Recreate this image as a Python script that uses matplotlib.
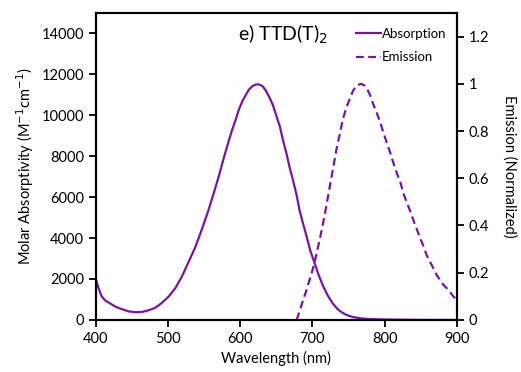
import numpy as np
import matplotlib
matplotlib.use('Agg')
import matplotlib.pyplot as plt

plt.rcParams['font.family'] = ['Lato', 'DejaVu Sans']

# Absorption spectrum
abs_nm = [399, 402, 405, 408, 413, 420, 427, 435, 445, 455, 464, 473, 482, 491,
          501, 510, 519, 528, 538, 547, 556, 563, 570, 577, 584, 589, 594, 598,
          603, 608, 612, 617, 622, 626, 631, 635, 640, 645, 649, 655, 659, 664,
          668, 673, 678, 682, 687, 692, 697, 703, 709, 715, 721, 728, 735, 741,
          747, 756, 766, 780, 800, 850, 900]
abs_val = [2110, 1750, 1420, 1150, 950, 800, 650, 540, 420, 375, 390, 470, 590, 820,
           1150, 1550, 2110, 2800, 3580, 4450, 5370, 6170, 6990, 7900, 8750, 9320,
           9830, 10280, 10700, 11020, 11260, 11430, 11510, 11510, 11420, 11230,
           10900, 10520, 10080, 9430, 8800, 8130, 7500, 6830, 6100, 5370, 4700,
           4060, 3380, 2770, 2150, 1630, 1200, 810, 520, 360, 245, 140, 80, 40, 20,
           0, 0]

# Emission spectrum (normalized)
em_nm = [678, 682, 686, 691, 695, 699, 703, 707, 711, 715, 719, 724, 729, 733,
         738, 742, 747, 752, 756, 761, 767, 771, 775, 780, 784, 789, 794, 798,
         803, 808, 812, 817, 822, 826, 831, 836, 840, 845, 850, 854, 858, 863,
         868, 872, 877, 881, 886, 890, 895, 900]
em_val = [0.0, 0.035, 0.075, 0.12, 0.16, 0.2, 0.245, 0.3, 0.355, 0.415, 0.48,
          0.566, 0.65, 0.72, 0.79, 0.85, 0.9, 0.94, 0.97, 0.993, 1.0, 0.995, 0.983,
          0.95, 0.915, 0.877, 0.835, 0.795, 0.75, 0.705, 0.665, 0.62, 0.58, 0.535,
          0.495, 0.455, 0.42, 0.38, 0.34, 0.31, 0.275, 0.245, 0.215, 0.19, 0.168,
          0.15, 0.134, 0.12, 0.1, 0.085]

purple = '#7A12A8'

fig = plt.figure(figsize=(5.21, 3.72), dpi=100)
ax = fig.add_axes([0.184, 0.140, 0.693, 0.825])
ax2 = ax.twinx()

la, = ax.plot(abs_nm, abs_val, color=purple, lw=1.6, label='Absorption')
le, = ax2.plot(em_nm, em_val, color=purple, lw=1.6, ls=(0, (3.5, 2)), label='Emission')

ax.set_xlim(400, 900)
ax.set_ylim(0, 15000)
ax2.set_ylim(0, 1.3)
ax.set_xticks([400, 500, 600, 700, 800, 900])
ax.set_yticks(range(0, 14001, 2000))
ax2.set_yticks([0, 0.2, 0.4, 0.6, 0.8, 1.0, 1.2])
ax2.set_yticklabels(['0', '0.2', '0.4', '0.6', '0.8', '1', '1.2'])

for a in (ax, ax2):
    for s in a.spines.values():
        s.set_linewidth(1.5)
    a.tick_params(direction='out', width=1.3, length=5, labelsize=10.5)

ax.set_xlabel('Wavelength (nm)', fontsize=10.5)
ax.set_ylabel('Molar Absorptivity (M$^{-1}$cm$^{-1}$)', fontsize=10.5)
ax2.set_ylabel('Emission (Normalized)', fontsize=10.5, rotation=270, labelpad=20)

ax.text(0.394, 0.93, 'e) TTD(T)$_2$', transform=ax.transAxes, fontsize=14,
        ha='left', va='center')

ax.legend(handles=[la, le], loc='upper right', bbox_to_anchor=(0.985, 0.970),
          frameon=False, fontsize=9.5, handlelength=1.9, handletextpad=0.05,
          borderaxespad=0.0, labelspacing=0.9)

fig.savefig('out.png', dpi=100)
